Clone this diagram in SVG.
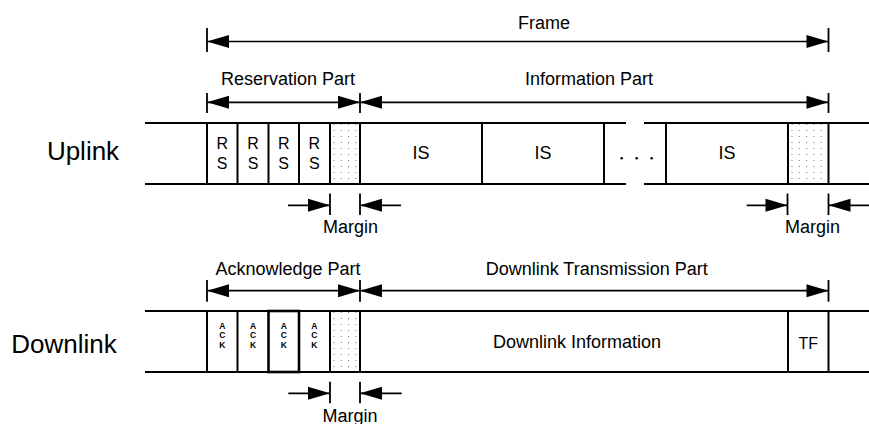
<svg xmlns="http://www.w3.org/2000/svg" width="869" height="424" viewBox="0 0 869 424">
  <style>
    text { font-family: "Liberation Sans", Arial, sans-serif; fill: #000; }
    .lbl { font-size: 18px; text-anchor: middle; }
    .side { font-size: 26px; text-anchor: middle; }
    .rs { font-size: 16px; text-anchor: middle; }
    .ack { font-size: 8.5px; font-weight: bold; text-anchor: middle; }
    .row { stroke: #000; stroke-width: 2; fill: none; }
    .div { stroke: #000; stroke-width: 2; }
    .tick { stroke: #000; stroke-width: 1.8; }
    .arr { stroke: #000; stroke-width: 1.7; fill: none; }
    .both { marker-start: url(#head); marker-end: url(#head); }
    .one { marker-end: url(#head); }
  </style>
  <defs>
    <marker id="head" markerUnits="userSpaceOnUse" markerWidth="22" markerHeight="13" refX="22" refY="6.5" orient="auto-start-reverse" overflow="visible">
      <path d="M0,0 L22,6.5 L0,13 Z" fill="#000"/>
    </marker>
    <!-- dot screen used for the margin slots -->
    <pattern id="dots" patternUnits="userSpaceOnUse" x="3.5" y="7" width="7.3" height="6">
      <rect x="0" y="0" width="1" height="1" fill="#777"/>
    </pattern>
  </defs>

  <rect width="869" height="424" fill="#fff"/>

  <!-- ===== Uplink row ===== -->
  <g id="uplink">
    <text class="side" x="83" y="160">Uplink</text>
    <g id="uplink-margin-1" transform="translate(330,123)"><rect width="30" height="61" fill="url(#dots)"/></g>
    <g id="uplink-margin-2" transform="translate(788,123)"><rect width="40.5" height="61" fill="url(#dots)"/></g>
    <path class="row" d="M145,123 H626 M644,123 H869 M145,184 H626 M644,184 H869"/>
    <g id="rs-1"><line class="div" x1="207" y1="123" x2="207" y2="184"/><text class="rs" x="222.2" y="149.3">R<tspan x="222.2" dy="19.7">S</tspan></text></g>
    <g id="rs-2"><line class="div" x1="237.5" y1="123" x2="237.5" y2="184"/><text class="rs" x="253" y="149.3">R<tspan x="253" dy="19.7">S</tspan></text></g>
    <g id="rs-3"><line class="div" x1="268.5" y1="123" x2="268.5" y2="184"/><text class="rs" x="283.7" y="149.3">R<tspan x="283.7" dy="19.7">S</tspan></text></g>
    <g id="rs-4"><line class="div" x1="299" y1="123" x2="299" y2="184"/><text class="rs" x="314.3" y="149.3">R<tspan x="314.3" dy="19.7">S</tspan></text></g>
    <line class="div" x1="330" y1="123" x2="330" y2="184"/>
    <g id="is-1"><line class="div" x1="360" y1="123" x2="360" y2="184"/><text class="lbl" x="421" y="159.3">IS</text></g>
    <g id="is-2"><line class="div" x1="482" y1="123" x2="482" y2="184"/><text class="lbl" x="543" y="159.3">IS</text></g>
    <g id="gap"><line class="div" x1="604" y1="123" x2="604" y2="184"/>
      <circle cx="621.7" cy="158.3" r="1.3"/><circle cx="636.7" cy="158.3" r="1.3"/><circle cx="651.7" cy="158.3" r="1.3"/></g>
    <g id="is-3"><line class="div" x1="666" y1="123" x2="666" y2="184"/><text class="lbl" x="727" y="159.3">IS</text></g>
    <line class="div" x1="788" y1="123" x2="788" y2="184"/>
    <line class="div" x1="828.5" y1="123" x2="828.5" y2="184"/>
  </g>

  <!-- ===== Downlink row ===== -->
  <g id="downlink">
    <text class="side" x="64" y="352.7">Downlink</text>
    <g id="downlink-margin" transform="translate(330,311)"><rect width="30" height="61" fill="url(#dots)"/></g>
    <path class="row" d="M145,311 H869 M145,372 H869"/>
    <g id="ack-1"><line class="div" x1="207" y1="311" x2="207" y2="372"/><text class="ack" x="222.2" y="328.5">A<tspan x="222.2" dy="9.8">C</tspan><tspan x="222.2" dy="9.8">K</tspan></text></g>
    <g id="ack-2"><line class="div" x1="237.5" y1="311" x2="237.5" y2="372"/><text class="ack" x="253" y="328.5">A<tspan x="253" dy="9.8">C</tspan><tspan x="253" dy="9.8">K</tspan></text></g>
    <g id="ack-3"><rect x="268.5" y="311" width="30.5" height="61" fill="none" stroke="#000" stroke-width="2.6"/><text class="ack" x="283.7" y="328.5">A<tspan x="283.7" dy="9.8">C</tspan><tspan x="283.7" dy="9.8">K</tspan></text></g>
    <g id="ack-4"><text class="ack" x="314.3" y="328.5">A<tspan x="314.3" dy="9.8">C</tspan><tspan x="314.3" dy="9.8">K</tspan></text></g>
    <line class="div" x1="330" y1="311" x2="330" y2="372"/>
    <g id="downlink-info"><line class="div" x1="360" y1="311" x2="360" y2="372"/><text class="lbl" x="577" y="348.3">Downlink Information</text></g>
    <g id="tf"><line class="div" x1="788" y1="311" x2="788" y2="372"/><line class="div" x1="828.5" y1="311" x2="828.5" y2="372"/><text class="rs" x="808.3" y="349.3">TF</text></g>
  </g>

  <!-- ===== Dimension labels ===== -->
  <g id="labels">
    <text class="lbl" x="544" y="29">Frame</text>
    <text class="lbl" x="288" y="85">Reservation Part</text>
    <text class="lbl" x="589" y="85">Information Part</text>
    <text class="lbl" x="350.5" y="232.5">Margin</text>
    <text class="lbl" x="812.5" y="232.5">Margin</text>
    <text class="lbl" x="288" y="275">Acknowledge Part</text>
    <text class="lbl" x="596.7" y="274.5">Downlink Transmission Part</text>
    <text class="lbl" x="350" y="421.5">Margin</text>
  </g>

  <!-- ===== Connectors: dimension arrows and ticks ===== -->
  <g id="connectors">
    <!-- frame -->
    <line class="tick" x1="207" y1="28" x2="207" y2="52"/>
    <line class="tick" x1="828.5" y1="28" x2="828.5" y2="52"/>
    <line class="arr both" x1="207" y1="41.5" x2="828.5" y2="41.5"/>
    <!-- uplink parts -->
    <line class="tick" x1="207" y1="93" x2="207" y2="113"/>
    <line class="tick" x1="360" y1="93" x2="360" y2="113"/>
    <line class="tick" x1="828.5" y1="93" x2="828.5" y2="113"/>
    <line class="arr both" x1="207" y1="102.3" x2="360" y2="102.3"/>
    <line class="arr both" x1="360" y1="102.3" x2="828.5" y2="102.3"/>
    <!-- uplink margins -->
    <line class="tick" x1="330" y1="193.5" x2="330" y2="215"/>
    <line class="tick" x1="360" y1="193.5" x2="360" y2="215"/>
    <line class="arr one" x1="288" y1="205.3" x2="330" y2="205.3"/>
    <line class="arr one" x1="401" y1="205.3" x2="360" y2="205.3"/>
    <line class="tick" x1="787.5" y1="193.5" x2="787.5" y2="215"/>
    <line class="tick" x1="828.5" y1="193.5" x2="828.5" y2="215"/>
    <line class="arr one" x1="746.7" y1="205.3" x2="787.5" y2="205.3"/>
    <line class="arr one" x1="869" y1="205.3" x2="828.5" y2="205.3"/>
    <!-- downlink parts -->
    <line class="tick" x1="207" y1="280" x2="207" y2="301.7"/>
    <line class="tick" x1="360" y1="280" x2="360" y2="301.7"/>
    <line class="tick" x1="828.5" y1="280" x2="828.5" y2="301.7"/>
    <line class="arr both" x1="207" y1="290.7" x2="360" y2="290.7"/>
    <line class="arr both" x1="360" y1="290.7" x2="828.5" y2="290.7"/>
    <!-- downlink margin -->
    <line class="tick" x1="330" y1="381.7" x2="330" y2="403.3"/>
    <line class="tick" x1="360" y1="381.7" x2="360" y2="403.3"/>
    <line class="arr one" x1="288.3" y1="393.3" x2="330" y2="393.3"/>
    <line class="arr one" x1="401.7" y1="393.3" x2="360" y2="393.3"/>
  </g>
</svg>
